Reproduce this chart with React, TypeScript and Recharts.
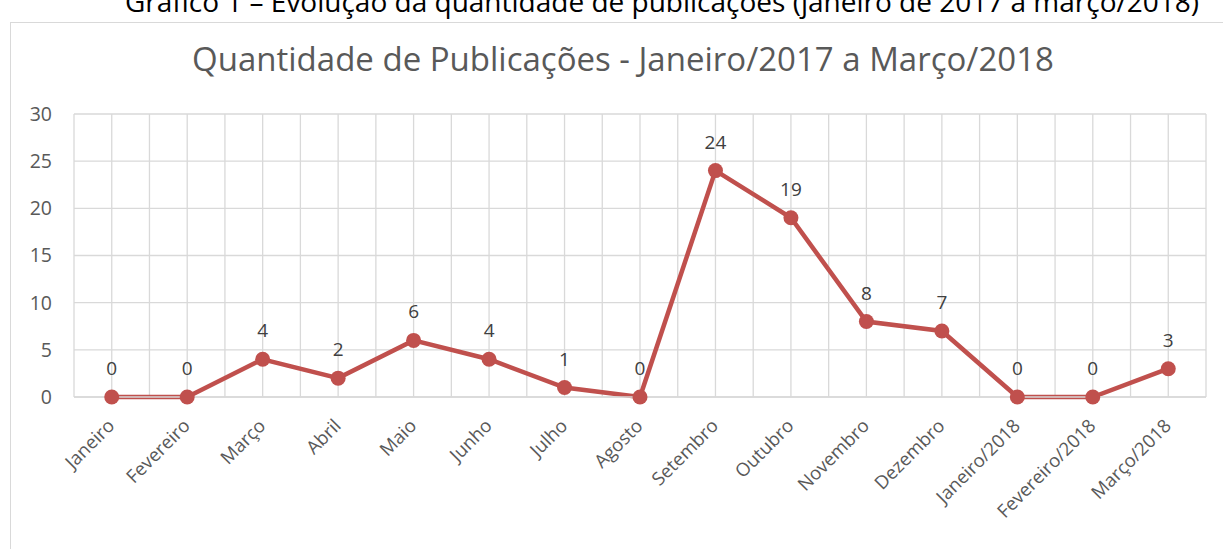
import React from "react";
import { LineChart, Line, XAxis, YAxis, CartesianGrid, LabelList } from "recharts";

const categories = [
  "Janeiro", "Fevereiro", "Março", "Abril", "Maio", "Junho", "Julho", "Agosto",
  "Setembro", "Outubro", "Novembro", "Dezembro", "Janeiro/2018", "Fevereiro/2018", "Março/2018",
];
const publicacoes = [0, 0, 4, 2, 6, 4, 1, 0, 24, 19, 8, 7, 0, 0, 3];
const yTicks = [0, 5, 10, 15, 20, 25, 30];

const data = categories.map((c, i) => ({ mes: c, valor: publicacoes[i] }));

const FONT = "'Open Sans', 'Noto Sans', sans-serif";
const RED = "#C0504D";
const HALF = 1132 / 30;

const XTick = (props: any) => {
  const { x, y, payload } = props;
  return (
    <g transform={`translate(${x + 4},${y + 22})`}>
      <text
        x={0}
        y={0}
        textAnchor="end"
        transform="rotate(-45)"
        fill="#595959"
        fontSize={18.5}
        fontFamily={FONT}
      >
        {payload.value}
      </text>
    </g>
  );
};

export default function App() {
  return (
    <div
      style={{
        position: "fixed",
        left: 0,
        top: 0,
        width: 1223,
        height: 549,
        overflow: "hidden",
        background: "#fff",
        fontFamily: FONT,
      }}
    >
      <div
        style={{
          position: "absolute",
          left: 662 - 800,
          width: 1600,
          top: -18,
          textAlign: "center",
          fontSize: 28,
          color: "#000",
          whiteSpace: "nowrap",
        }}
      >
        Gráfico 1 – Evolução da quantidade de publicações (janeiro de 2017 a março/2018)
      </div>
      <div
        style={{
          position: "absolute",
          left: 10,
          top: 22,
          width: 1240,
          height: 560,
          border: "1.5px solid #d9d9d9",
        }}
      />
      <div
        style={{
          position: "absolute",
          left: 623 - 800,
          width: 1600,
          top: 36,
          textAlign: "center",
          fontSize: 33,
          color: "#595959",
          whiteSpace: "nowrap",
        }}
      >
        Quantidade de Publicações - Janeiro/2017 a Março/2018
      </div>
      <div style={{ position: "absolute", left: 0, top: 0 }}>
        <LineChart
          width={1223}
          height={549}
          data={data}
          margin={{ top: 114, right: 17, bottom: 0, left: 14 }}
        >
          <CartesianGrid
            stroke="#d9d9d9"
            strokeWidth={1.3}
            verticalCoordinatesGenerator={({ offset }: any) => {
              const pts: number[] = [];
              const n = categories.length * 2;
              for (let i = 0; i <= n; i++) pts.push(offset.left + (offset.width * i) / n);
              return pts;
            }}
          />
          <XAxis
            dataKey="mes"
            interval={0}
            height={152}
            padding={{ left: HALF, right: HALF }}
            axisLine={{ stroke: "#d9d9d9", strokeWidth: 1.3 }}
            tickLine={false}
            tick={<XTick />}
          />
          <YAxis
            width={60}
            domain={[0, 30]}
            ticks={yTicks}
            axisLine={false}
            tickLine={false}
            tickSize={0}
            tickMargin={22}
            tick={{ fill: "#595959", fontSize: 19.5, fontFamily: FONT }}
          />
          <Line
            type="linear"
            dataKey="valor"
            stroke={RED}
            strokeWidth={4.5}
            dot={{ r: 7.5, fill: RED, stroke: RED, strokeWidth: 0 }}
            isAnimationActive={false}
          >
            <LabelList
              dataKey="valor"
              position="top"
              offset={22}
              fill="#404040"
              fontSize={19}
              fontFamily={FONT}
            />
          </Line>
        </LineChart>
      </div>
    </div>
  );
}
